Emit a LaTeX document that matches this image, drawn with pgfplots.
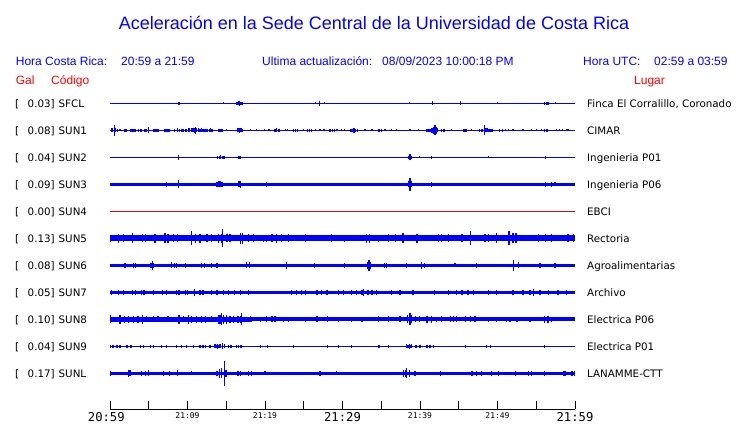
\documentclass[border=0pt]{standalone}
\usepackage{pgfplots}
\pgfplotsset{compat=1.18}
\usepackage{fontspec}
\setmainfont{Liberation Sans}
\newfontfamily\dejavu{DejaVu Sans}
\newfontfamily\dejamono{DejaVu Sans Mono}
\definecolor{trc}{rgb}{0,0,1}
\definecolor{ebci}{rgb}{0.82,0.05,0.05}
\pgfplotsset{trace/.style={draw=none, no markers, error bars/.cd, y dir=both, y explicit, error mark=none, error bar style={draw=trc, line width=1.3bp}}}
\newcommand\lab{\dejavu\fontsize{10.3bp}{12bp}\selectfont}
\newcommand\hdr{\fontsize{12bp}{14bp}\selectfont}
\newcommand\tbig[1]{{\dejamono\fontsize{12.2bp}{14bp}\selectfont #1}}
\newcommand\tsmall[1]{{\dejamono\fontsize{8bp}{10bp}\selectfont #1}}
\newcommand\station[4]{%
\node[anchor=base west,inner sep=0pt,font=\lab] at (15,#1-4) {[};%
\node[anchor=base west,inner sep=0pt,font=\lab] at (27.5,#1-4) {#2]};%
\node[anchor=base west,inner sep=0pt,font=\lab] at (58.5,#1-4) {#3};%
\node[anchor=base west,inner sep=0pt,font=\lab] at (587,#1-4) {#4};}
\begin{document}
\begin{tikzpicture}[x=1bp,y=1bp]
\useasboundingbox (0,0) rectangle (740,423);
% title and headers
\node[anchor=base,inner sep=0pt,text=blue,font=\fontsize{18bp}{20bp}\selectfont] at (374,393.7) {Aceleración en la Sede Central de la Universidad de Costa Rica};
\begin{scope}[every node/.style={anchor=base west,inner sep=0pt,text=blue,font=\hdr}]
\node at (15.7,358) {Hora Costa Rica:};
\node at (121,358) {20:59 a 21:59};
\node at (262,358) {Ultima actualización:};
\node at (382,358) {08/09/2023 10:00:18 PM};
\node at (583,358) {Hora UTC:};
\node at (654,358) {02:59 a 03:59};
\end{scope}
\begin{scope}[every node/.style={anchor=base west,inner sep=0pt,text=red,font=\hdr}]
\node at (15.7,339) {Gal};
\node at (51,339) {Código};
\node at (634,339) {Lugar};
\end{scope}
\station{319.7}{0.03}{SFCL}{Finca El Corralillo, Coronado}
\station{292.7}{0.08}{SUN1}{CIMAR}
\station{265.7}{0.04}{SUN2}{Ingenieria P01}
\station{238.7}{0.09}{SUN3}{Ingenieria P06}
\station{211.7}{0.00}{SUN4}{EBCI}
\station{184.7}{0.13}{SUN5}{Rectoria}
\station{157.7}{0.08}{SUN6}{Agroalimentarias}
\station{130.7}{0.05}{SUN7}{Archivo}
\station{103.7}{0.10}{SUN8}{Electrica P06}
\station{76.7}{0.04}{SUN9}{Electrica P01}
\station{49.7}{0.17}{SUNL}{LANAMME-CTT}
\begin{axis}[at={(110bp,13.7bp)}, anchor=south west, scale only axis,
  width=465bp, height=326.3bp, xmin=0, xmax=60, ymin=13.7, ymax=340, clip=false,
  axis x line*=bottom, axis y line=none, ytick=\empty,
  xtick={0,5,...,60},
  xticklabels={{\tbig{20:59\kern7.4bp}},{},{\tsmall{21:09}},{},{\tsmall{21:19}},{},{\tbig{21:29}},{},{\tsmall{21:39}},{},{\tsmall{21:49}},{},{\tbig{21:59}}},
  xtick align=inside, major tick length=8bp,
  major tick style={black, line width=1bp},
  axis line style={black, line width=1bp, -},
  xticklabel style={anchor=north, inner sep=0pt, yshift=-3bp},
  table/row sep=\\]
% SFCL
\addplot[trc, line width=1bp] coordinates {(0,319.7) (60,319.7)};
\addplot[trace] table[x=t, y expr=319.7, y error=a] {t a\\ 8.8 1.3\\ 8.95 1.3\\ 14.6 0.9\\ 16.3 1.6\\ 16.45 1.7\\ 16.6 1.8\\ 16.75 2.3\\ 16.9 1.7\\ 17.05 1.4\\ 26.5 0.9\\ 27.05 2.7\\ 27.7 0.9\\ 38.6 1.1\\ 41.6 2.0\\ 45.2 2.0\\ 50.0 0.9\\ 56.1 1.5\\ 56.3 1.5\\ 56.5 1.3\\ 57.5 0.9\\};
% SUN1
\addplot[trc, line width=1bp] coordinates {(0,292.7) (60,292.7)};
\addplot[trace] table[x=t, y expr=292.7, y error=a] {t a\\ 0.15 1.8\\ 0.35 2.0\\ 0.56 5.3\\ 0.75 2.0\\ 0.95 1.5\\ 1.29 1.2\\ 1.85 1.6\\ 2.0 1.6\\ 2.15 1.6\\ 2.7 1.5\\ 2.85 1.5\\ 3.0 1.5\\ 3.15 1.5\\ 3.3 1.5\\ 3.7 1.5\\ 3.9 1.5\\ 4.05 1.5\\ 4.45 1.5\\ 4.6 1.5\\ 4.75 1.5\\ 4.95 2.8\\ 5.6 1.4\\ 5.8 1.4\\ 6.0 1.5\\ 6.2 1.4\\ 7.1 1.5\\ 7.3 1.5\\ 7.5 1.6\\ 7.7 1.3\\ 8.3 1.3\\ 8.75 2.2\\ 8.95 1.5\\ 9.3 1.6\\ 9.5 1.5\\ 9.7 1.6\\ 9.9 1.7\\ 10.1 1.8\\ 10.3 2.2\\ 10.5 1.8\\ 10.7 2.0\\ 10.9 2.4\\ 11.05 3.3\\ 11.2 2.2\\ 11.4 1.8\\ 11.6 1.6\\ 11.8 1.8\\ 12.0 1.5\\ 12.2 1.5\\ 12.4 1.5\\ 12.6 1.6\\ 12.8 1.4\\ 13.0 1.8\\ 13.15 1.4\\ 14.0 1.4\\ 14.2 1.4\\ 14.45 1.4\\ 15.05 1.2\\ 16.5 1.8\\ 16.7 2.3\\ 16.9 1.8\\ 17.1 1.4\\ 18.15 1.2\\ 18.9 1.2\\ 19.9 1.0\\ 20.5 1.0\\ 21.3 1.5\\ 21.5 2.0\\ 21.7 1.5\\ 21.9 1.3\\ 22.6 1.2\\ 22.9 1.2\\ 23.7 1.5\\ 23.9 1.5\\ 24.2 1.5\\ 24.95 1.2\\ 25.5 1.4\\ 25.7 1.4\\ 26.0 1.4\\ 26.5 1.2\\ 27.1 1.2\\ 27.6 1.2\\ 28.4 1.4\\ 28.7 1.4\\ 29.0 1.3\\ 29.3 1.2\\ 29.9 1.2\\ 30.3 1.2\\ 31.1 1.5\\ 31.3 1.7\\ 31.5 2.3\\ 31.7 1.7\\ 31.95 1.4\\ 32.9 1.2\\ 33.8 1.2\\ 34.6 1.6\\ 34.8 1.6\\ 35.05 1.3\\ 35.5 1.2\\ 36.35 1.2\\ 37.0 1.2\\ 38.7 1.2\\ 39.8 1.2\\ 40.9 1.3\\ 41.1 1.4\\ 41.3 1.5\\ 41.55 2.5\\ 41.75 3.5\\ 41.95 5.0\\ 42.1 3.5\\ 42.3 2.0\\ 42.8 1.4\\ 43.1 1.3\\ 44.1 1.2\\ 45.6 1.5\\ 45.8 1.5\\ 46.0 1.5\\ 46.6 1.2\\ 47.7 1.5\\ 47.9 1.6\\ 48.1 1.7\\ 48.35 5.0\\ 48.5 2.0\\ 48.7 1.8\\ 48.9 1.6\\ 49.1 1.5\\ 49.3 1.4\\ 50.3 1.3\\ 50.6 1.3\\ 51.0 1.2\\ 51.4 1.2\\ 52.0 1.2\\ 53.3 1.2\\ 54.4 1.2\\ 55.05 1.2\\ 55.7 1.2\\ 56.1 1.5\\ 56.4 1.5\\ 57.6 1.2\\ 58.0 1.2\\ 58.4 1.2\\ 58.9 1.2\\ 59.1 1.2\\};
% SUN2
\addplot[trc, line width=1bp] coordinates {(0,265.7) (60,265.7)};
\addplot[trace] table[x=t, y expr=265.7, y error=a] {t a\\ 8.82 2.5\\ 13.9 1.7\\ 14.1 1.7\\ 14.3 1.8\\ 14.5 1.7\\ 14.7 1.3\\ 16.65 1.6\\ 16.85 1.6\\ 38.5 1.7\\ 38.7 3.0\\ 38.85 1.7\\ 39.9 0.9\\ 41.5 1.7\\ 48.8 0.9\\ 56.2 1.5\\};
% SUN3
\addplot[trc, line width=3.4bp] coordinates {(0,238.7) (60,238.7)};
\addplot[trace] table[x=t, y expr=238.7, y error=a] {t a\\ 7.3 2.5\\ 8.82 4.0\\ 13.8 2.7\\ 14.0 3.0\\ 14.2 3.0\\ 14.45 2.7\\ 16.65 3.2\\ 16.85 3.7\\ 20.2 2.5\\ 38.55 3.0\\ 38.7 6.3\\ 38.85 3.0\\ 41.5 2.7\\ 56.2 2.5\\ 57.0 2.3\\ 57.4 2.0\\};
% SUN4
\addplot[ebci, line width=1bp] coordinates {(0,211.7) (60,211.7)};
% SUN5
\addplot[trc, line width=6bp] coordinates {(0,184.7) (60,184.7)};
\addplot[trace] table[x=t, y expr=184.7, y error=a] {t a\\ 0.1 3.7\\ 1.1 4.5\\ 1.7 4.0\\ 2.9 5.0\\ 4.2 4.0\\ 4.6 4.0\\ 5.8 4.5\\ 7.1 5.0\\ 7.5 4.5\\ 8.2 4.0\\ 8.7 4.0\\ 10.5 7.0\\ 11.0 4.5\\ 11.6 4.5\\ 12.5 4.0\\ 13.1 4.0\\ 14.0 4.5\\ 14.4 4.5\\ 14.55 9.0\\ 15.1 4.0\\ 15.5 4.0\\ 16.8 5.5\\ 17.1 5.5\\ 17.9 4.0\\ 18.5 4.0\\ 19.8 3.7\\ 20.2 3.7\\ 20.9 4.0\\ 21.5 4.5\\ 22.1 4.0\\ 23.0 4.0\\ 25.2 4.0\\ 28.6 4.0\\ 30.3 3.7\\ 33.1 4.5\\ 33.5 4.5\\ 34.6 3.5\\ 35.9 4.0\\ 36.8 4.0\\ 37.8 5.0\\ 39.6 4.5\\ 42.4 4.0\\ 42.8 4.0\\ 43.7 4.0\\ 45.4 4.0\\ 46.5 7.0\\ 48.4 4.0\\ 48.8 4.0\\ 49.9 5.0\\ 51.5 7.0\\ 52.0 5.0\\ 52.4 5.0\\ 55.3 4.0\\ 56.2 4.0\\ 57.0 4.0\\ 59.1 4.0\\ 59.8 4.0\\};
% SUN6
\addplot[trc, line width=3.4bp] coordinates {(0,157.7) (60,157.7)};
\addplot[trace] table[x=t, y expr=157.7, y error=a] {t a\\ 1.94 2.5\\ 3.0 2.5\\ 3.3 2.5\\ 5.3 2.7\\ 5.46 4.2\\ 5.6 2.7\\ 7.9 3.0\\ 8.3 2.5\\ 8.6 2.5\\ 9.7 2.3\\ 11.8 2.5\\ 12.2 2.5\\ 13.1 2.5\\ 13.8 2.5\\ 17.6 3.0\\ 18.0 3.0\\ 22.8 3.5\\ 26.4 2.7\\ 30.3 2.3\\ 33.2 3.5\\ 33.4 5.7\\ 33.6 3.5\\ 35.4 2.5\\ 35.7 2.5\\ 38.3 2.5\\ 40.2 3.7\\ 40.6 2.7\\ 44.5 2.0\\ 47.3 2.5\\ 52.1 5.5\\ 52.7 3.0\\ 55.5 2.3\\ 57.4 2.3\\};
% SUN7
\addplot[trc, line width=3.4bp] coordinates {(0,130.7) (60,130.7)};
\addplot[trace] table[x=t, y expr=130.7, y error=a] {t a\\ 0.2 2.7\\ 1.1 2.7\\ 1.7 2.7\\ 2.9 2.7\\ 3.3 2.7\\ 4.1 2.7\\ 4.4 2.7\\ 5.6 2.7\\ 6.75 2.7\\ 7.3 2.7\\ 8.6 2.7\\ 8.9 2.7\\ 9.7 2.7\\ 10.0 2.7\\ 10.9 3.2\\ 11.6 2.7\\ 12.0 2.7\\ 13.1 2.7\\ 13.8 2.7\\ 14.6 2.7\\ 15.3 2.7\\ 16.1 2.7\\ 16.8 2.7\\ 17.9 2.7\\ 23.4 2.7\\ 24.1 2.7\\ 24.7 2.7\\ 25.2 2.7\\ 26.7 2.7\\ 27.3 2.7\\ 28.0 2.7\\ 29.5 2.7\\ 30.1 2.7\\ 31.2 2.7\\ 31.8 2.7\\ 32.5 2.7\\ 32.7 3.5\\ 33.3 2.7\\ 33.8 2.7\\ 34.4 2.7\\ 36.3 2.7\\ 37.4 2.7\\ 39.1 2.7\\ 41.9 2.7\\ 43.7 2.7\\ 44.7 2.7\\ 45.4 2.7\\ 46.2 2.7\\ 46.9 2.7\\ 48.8 2.7\\ 49.9 2.7\\ 52.0 2.7\\ 53.3 2.7\\ 54.2 2.7\\ 54.6 3.2\\ 55.5 2.7\\ 56.6 2.7\\ 57.8 2.7\\ 58.9 2.7\\};
% SUN8
\addplot[trc, line width=4bp] coordinates {(0,103.7) (60,103.7)};
\addplot[trc, line width=5.4bp] coordinates {(0,103.7) (18.3,103.7)};
\addplot[trace] table[x=t, y expr=103.7, y error=a] {t a\\ 0.1 4.0\\ 1.3 4.5\\ 1.9 3.5\\ 2.4 3.5\\ 3.0 3.3\\ 3.6 3.3\\ 4.2 4.7\\ 4.7 3.0\\ 5.6 3.0\\ 6.2 3.0\\ 7.5 3.0\\ 8.9 4.5\\ 9.5 3.0\\ 10.1 4.7\\ 10.5 3.5\\ 11.2 3.5\\ 11.8 3.2\\ 12.3 3.2\\ 13.1 3.0\\ 14.0 4.5\\ 14.2 4.5\\ 14.4 6.0\\ 14.6 4.5\\ 15.0 4.5\\ 15.5 3.2\\ 15.9 3.2\\ 16.5 3.5\\ 16.8 3.5\\ 17.0 6.0\\ 18.1 3.0\\ 19.4 2.7\\ 20.2 3.0\\ 20.9 3.0\\ 21.3 3.0\\ 22.4 2.7\\ 23.0 2.7\\ 25.2 2.7\\ 26.7 3.0\\ 28.1 3.0\\ 29.5 2.7\\ 31.2 2.7\\ 32.5 2.7\\ 34.6 3.0\\ 35.9 3.0\\ 37.4 3.0\\ 38.4 4.0\\ 38.7 6.0\\ 38.9 4.0\\ 39.4 3.0\\ 39.9 3.0\\ 40.9 3.2\\ 41.5 3.2\\ 42.1 2.7\\ 42.8 3.0\\ 43.9 3.0\\ 44.3 3.0\\ 44.7 3.0\\ 45.9 3.0\\ 46.5 3.0\\ 47.1 3.0\\ 48.8 2.7\\ 49.9 2.7\\ 51.2 2.7\\ 51.6 2.7\\ 52.5 2.7\\ 54.2 2.7\\ 56.1 3.2\\ 56.5 3.2\\ 57.0 2.7\\};
% SUN9
\addplot[trc, line width=1.2bp] coordinates {(0,76.7) (60,76.7)};
\addplot[trace] table[x=t, y expr=76.7, y error=a] {t a\\ 0.1 1.5\\ 0.4 1.2\\ 0.9 1.3\\ 1.3 1.5\\ 2.2 1.3\\ 2.7 1.3\\ 3.9 1.3\\ 4.3 1.5\\ 5.2 1.3\\ 5.6 1.2\\ 6.6 1.5\\ 7.3 1.2\\ 8.6 1.3\\ 9.25 1.3\\ 9.9 1.3\\ 10.75 1.3\\ 11.6 1.5\\ 12.0 1.5\\ 12.3 1.5\\ 12.9 1.3\\ 13.55 2.0\\ 13.75 1.8\\ 13.9 2.2\\ 14.05 1.8\\ 14.2 2.0\\ 14.5 3.0\\ 14.75 2.0\\ 15.3 1.5\\ 15.6 1.5\\ 16.3 1.5\\ 16.6 1.7\\ 16.9 1.5\\ 19.4 1.3\\ 20.3 1.2\\ 23.7 1.2\\ 28.1 1.2\\ 29.5 1.2\\ 31.2 1.2\\ 34.7 1.2\\ 35.9 1.3\\ 38.3 2.0\\ 38.45 1.8\\ 38.6 2.3\\ 38.75 1.8\\ 38.9 2.0\\ 39.5 1.3\\ 40.0 1.5\\ 40.9 1.5\\ 41.3 1.5\\ 41.7 1.5\\ 45.9 1.5\\ 48.6 1.5\\ 49.1 1.2\\ 56.1 1.5\\};
% SUNL
\addplot[trc, line width=3.4bp] coordinates {(0,49.7) (60,49.7)};
\addplot[trace] table[x=t, y expr=49.7, y error=a] {t a\\ 0.1 2.2\\ 2.37 3.5\\ 2.58 3.0\\ 4.1 2.3\\ 4.6 2.7\\ 4.95 3.0\\ 6.9 2.7\\ 7.65 2.3\\ 8.7 3.0\\ 10.5 2.0\\ 13.8 2.5\\ 14.1 4.5\\ 14.4 5.0\\ 14.75 12.7\\ 14.97 3.5\\ 16.5 2.7\\ 16.8 2.7\\ 17.85 2.3\\ 18.3 2.3\\ 20.0 2.0\\ 27.1 2.7\\ 29.2 2.0\\ 37.85 3.5\\ 38.1 3.5\\ 38.28 5.0\\ 38.6 3.5\\ 39.35 2.5\\ 42.6 2.2\\ 46.7 2.2\\ 47.3 2.2\\ 47.95 2.2\\ 49.25 2.5\\ 50.1 2.2\\ 52.3 2.2\\ 54.0 2.7\\ 54.4 2.7\\ 56.1 2.5\\ 58.5 2.2\\ 58.7 2.2\\ 59.6 2.7\\ 59.9 2.7\\};
\end{axis}
\end{tikzpicture}
\end{document}
